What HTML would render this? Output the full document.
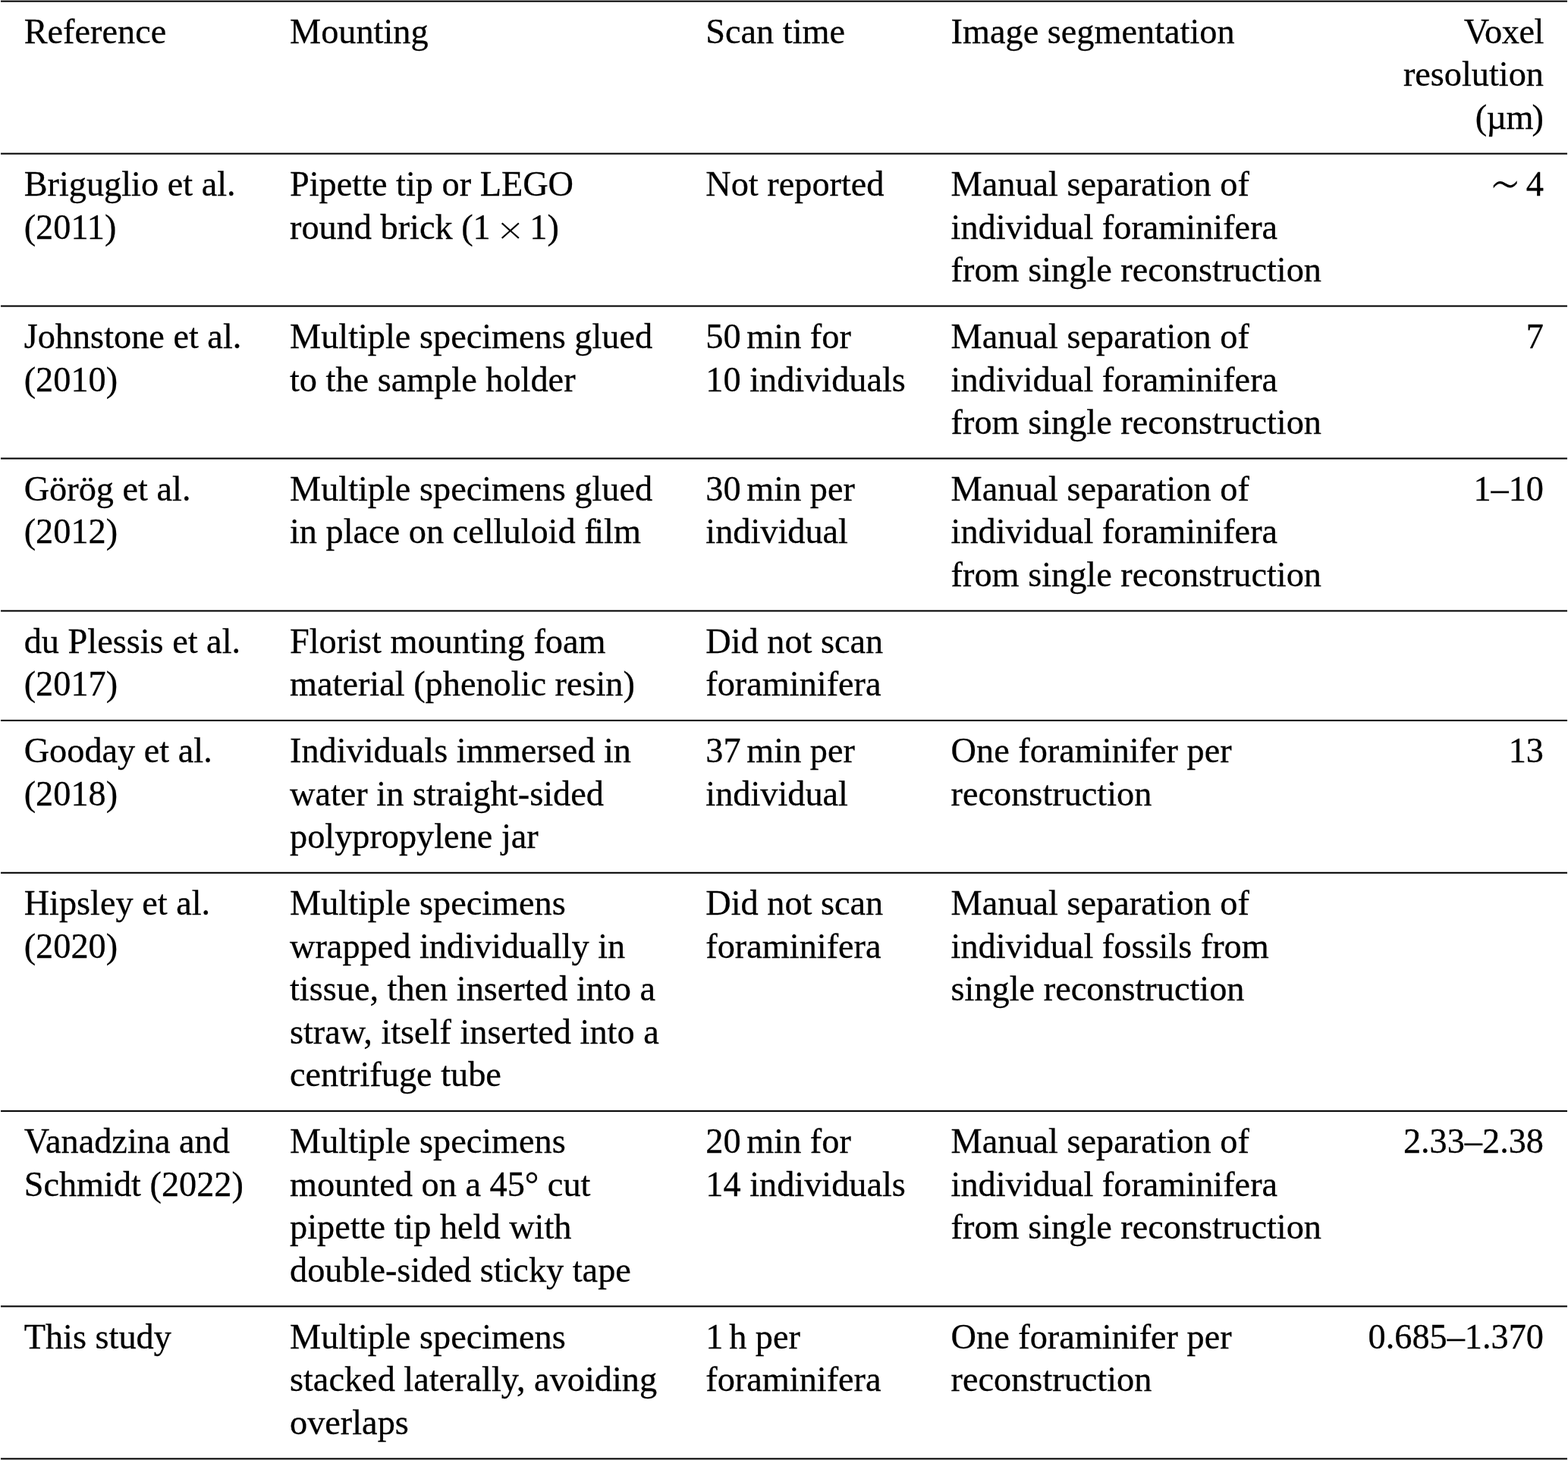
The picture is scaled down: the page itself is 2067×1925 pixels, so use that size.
<!DOCTYPE html>
<html lang="en"><head><meta charset="utf-8"><title>Comparison of micro-CT scanning approaches for foraminifera</title>
<style>
html,body{margin:0;padding:0;background:#fff;}
body{width:2067px;height:1925px;position:relative;overflow:hidden;font-family:"Liberation Serif",serif;font-size:46.29px;line-height:51px;color:#000;}
.t{position:absolute;white-space:pre;margin:0;height:51px;-webkit-text-stroke:0.3px #000;}
.th{letter-spacing:-3.86px;}
.w{display:inline-block;height:0;position:relative;vertical-align:baseline;}
.i{-webkit-text-stroke:0;position:absolute;left:-60px;right:-60px;text-align:center;white-space:pre;font-family:"DejaVu Sans Light","DejaVu Sans",sans-serif;font-weight:200;line-height:60px;height:60px;}
.wx{width:51.6px;}
.ws{width:33.43px;}
.x{font-size:46.0px;top:-42.3px;margin-left:0.6px;transform:scaleY(0.9);transform-origin:50% 50%;}
.s{font-size:65.0px;top:-44.0px;margin-left:1.2px;transform:scaleY(1.22);transform-origin:50% 50%;}
svg{position:absolute;left:0;top:0;}
table{border-collapse:collapse;border-spacing:0;margin:0;padding:0;width:0;height:0;}
th,td{padding:0;margin:0;border:0;font-weight:normal;text-align:left;}
</style></head><body>
<svg width="2067" height="1925" viewBox="0 0 2067 1925">
<rect x="1" y="0.62" width="2065" height="2.06" fill="#000"/>
<rect x="1" y="201.57" width="2065" height="2.06" fill="#000"/>
<rect x="1" y="402.52" width="2065" height="2.06" fill="#000"/>
<rect x="1" y="603.47" width="2065" height="2.06" fill="#000"/>
<rect x="1" y="804.42" width="2065" height="2.06" fill="#000"/>
<rect x="1" y="948.92" width="2065" height="2.06" fill="#000"/>
<rect x="1" y="1149.75" width="2065" height="2.06" fill="#000"/>
<rect x="1" y="1463.85" width="2065" height="2.06" fill="#000"/>
<rect x="1" y="1721.37" width="2065" height="2.06" fill="#000"/>
<rect x="1" y="1922.34" width="2065" height="2.06" fill="#000"/>
</svg>
<table>
<thead>
<tr>
<th>
<div class="t" style="left:31.7px;top:16px">Reference</div>
</th>
<th>
<div class="t" style="left:382.0px;top:16px">Mounting</div>
</th>
<th>
<div class="t" style="left:930.3px;top:16px">Scan time</div>
</th>
<th>
<div class="t" style="left:1253.6px;top:16px">Image segmentation</div>
</th>
<th>
<div class="t" style="right:32.0px;top:16px"><span style="letter-spacing:-0.4px">Voxel</span></div>
<div class="t" style="right:32.0px;top:72px">resolution</div>
<div class="t" style="right:32.0px;top:129px"><span style="letter-spacing:-0.6px">(µ</span><span style="letter-spacing:-2px">m</span>)</div>
</th>
</tr>
</thead>
<tbody>
<tr>
<td>
<div class="t" style="left:31.7px;top:217px">Briguglio et al.</div>
<div class="t" style="left:31.7px;top:274px">(2011)</div>
</td>
<td>
<div class="t" style="left:382.0px;top:217px">Pipette tip or LEGO</div>
<div class="t" style="left:382.0px;top:274px">round brick (1<span class="w wx"><span class="i x"> × </span></span>1)</div>
</td>
<td>
<div class="t" style="left:930.3px;top:217px">Not reported</div>
</td>
<td>
<div class="t" style="left:1253.6px;top:217px">Manual separation of</div>
<div class="t" style="left:1253.6px;top:274px">individual foraminifera</div>
<div class="t" style="left:1253.6px;top:330px">from single reconstruction</div>
</td>
<td>
<div class="t" style="right:32.0px;top:217px"><span class="w ws"><span class="i s">∼</span></span> 4</div>
</td>
</tr>
<tr>
<td>
<div class="t" style="left:31.7px;top:418px">Johnstone et al.</div>
<div class="t" style="left:31.7px;top:475px">(2010)</div>
</td>
<td>
<div class="t" style="left:382.0px;top:418px">Multiple specimens glued</div>
<div class="t" style="left:382.0px;top:475px">to the sample holder</div>
</td>
<td>
<div class="t" style="left:930.3px;top:418px">50<span class="th"> </span>min for</div>
<div class="t" style="left:930.3px;top:475px">10 individuals</div>
</td>
<td>
<div class="t" style="left:1253.6px;top:418px">Manual separation of</div>
<div class="t" style="left:1253.6px;top:475px">individual foraminifera</div>
<div class="t" style="left:1253.6px;top:531px">from single reconstruction</div>
</td>
<td>
<div class="t" style="right:32.0px;top:418px">7</div>
</td>
</tr>
<tr>
<td>
<div class="t" style="left:31.7px;top:619px">Görög et al.</div>
<div class="t" style="left:31.7px;top:675px">(2012)</div>
</td>
<td>
<div class="t" style="left:382.0px;top:619px">Multiple specimens glued</div>
<div class="t" style="left:382.0px;top:675px">in place on celluloid <span style="letter-spacing:-2.3px">f</span>ilm</div>
</td>
<td>
<div class="t" style="left:930.3px;top:619px">30<span class="th"> </span>min per</div>
<div class="t" style="left:930.3px;top:675px">individual</div>
</td>
<td>
<div class="t" style="left:1253.6px;top:619px">Manual separation of</div>
<div class="t" style="left:1253.6px;top:675px">individual foraminifera</div>
<div class="t" style="left:1253.6px;top:732px">from single reconstruction</div>
</td>
<td>
<div class="t" style="right:32.0px;top:619px">1–10</div>
</td>
</tr>
<tr>
<td>
<div class="t" style="left:31.7px;top:820px">du Plessis et al.</div>
<div class="t" style="left:31.7px;top:876px">(2017)</div>
</td>
<td>
<div class="t" style="left:382.0px;top:820px">Florist mounting foam</div>
<div class="t" style="left:382.0px;top:876px">material (phenolic resin)</div>
</td>
<td>
<div class="t" style="left:930.3px;top:820px">Did not scan</div>
<div class="t" style="left:930.3px;top:876px">foraminifera</div>
</td>
<td>
</td>
<td>
</td>
</tr>
<tr>
<td>
<div class="t" style="left:31.7px;top:964px">Gooday et al.</div>
<div class="t" style="left:31.7px;top:1021px">(2018)</div>
</td>
<td>
<div class="t" style="left:382.0px;top:964px">Individuals immersed in</div>
<div class="t" style="left:382.0px;top:1021px">water in straight-sided</div>
<div class="t" style="left:382.0px;top:1077px">polypropylene jar</div>
</td>
<td>
<div class="t" style="left:930.3px;top:964px">37<span class="th"> </span>min per</div>
<div class="t" style="left:930.3px;top:1021px">individual</div>
</td>
<td>
<div class="t" style="left:1253.6px;top:964px">One foraminifer per</div>
<div class="t" style="left:1253.6px;top:1021px">reconstruction</div>
</td>
<td>
<div class="t" style="right:32.0px;top:964px">13</div>
</td>
</tr>
<tr>
<td>
<div class="t" style="left:31.7px;top:1165px">Hipsley et al.</div>
<div class="t" style="left:31.7px;top:1222px">(2020)</div>
</td>
<td>
<div class="t" style="left:382.0px;top:1165px">Multiple specimens</div>
<div class="t" style="left:382.0px;top:1222px">wrapped individually in</div>
<div class="t" style="left:382.0px;top:1278px">tissue, then inserted into a</div>
<div class="t" style="left:382.0px;top:1335px">straw, itself inserted into a</div>
<div class="t" style="left:382.0px;top:1391px">centrifuge tube</div>
</td>
<td>
<div class="t" style="left:930.3px;top:1165px">Did not scan</div>
<div class="t" style="left:930.3px;top:1222px">foraminifera</div>
</td>
<td>
<div class="t" style="left:1253.6px;top:1165px">Manual separation of</div>
<div class="t" style="left:1253.6px;top:1222px">individual fossils from</div>
<div class="t" style="left:1253.6px;top:1278px">single reconstruction</div>
</td>
<td>
</td>
</tr>
<tr>
<td>
<div class="t" style="left:31.7px;top:1479px">Vanadzina and</div>
<div class="t" style="left:31.7px;top:1536px">Schmidt (2022)</div>
</td>
<td>
<div class="t" style="left:382.0px;top:1479px">Multiple specimens</div>
<div class="t" style="left:382.0px;top:1536px">mounted on a 45° cut</div>
<div class="t" style="left:382.0px;top:1592px">pipette tip held with</div>
<div class="t" style="left:382.0px;top:1649px">double-sided sticky tape</div>
</td>
<td>
<div class="t" style="left:930.3px;top:1479px">20<span class="th"> </span>min for</div>
<div class="t" style="left:930.3px;top:1536px">14 individuals</div>
</td>
<td>
<div class="t" style="left:1253.6px;top:1479px">Manual separation of</div>
<div class="t" style="left:1253.6px;top:1536px">individual foraminifera</div>
<div class="t" style="left:1253.6px;top:1592px">from single reconstruction</div>
</td>
<td>
<div class="t" style="right:32.0px;top:1479px">2.33–2.38</div>
</td>
</tr>
<tr>
<td>
<div class="t" style="left:31.7px;top:1737px">This study</div>
</td>
<td>
<div class="t" style="left:382.0px;top:1737px">Multiple specimens</div>
<div class="t" style="left:382.0px;top:1793px">stacked laterally, avoiding</div>
<div class="t" style="left:382.0px;top:1850px">overlaps</div>
</td>
<td>
<div class="t" style="left:930.3px;top:1737px">1<span class="th"> </span>h per</div>
<div class="t" style="left:930.3px;top:1793px">foraminifera</div>
</td>
<td>
<div class="t" style="left:1253.6px;top:1737px">One foraminifer per</div>
<div class="t" style="left:1253.6px;top:1793px">reconstruction</div>
</td>
<td>
<div class="t" style="right:32.0px;top:1737px">0.685–1.370</div>
</td>
</tr>
</tbody></table>
</body></html>
